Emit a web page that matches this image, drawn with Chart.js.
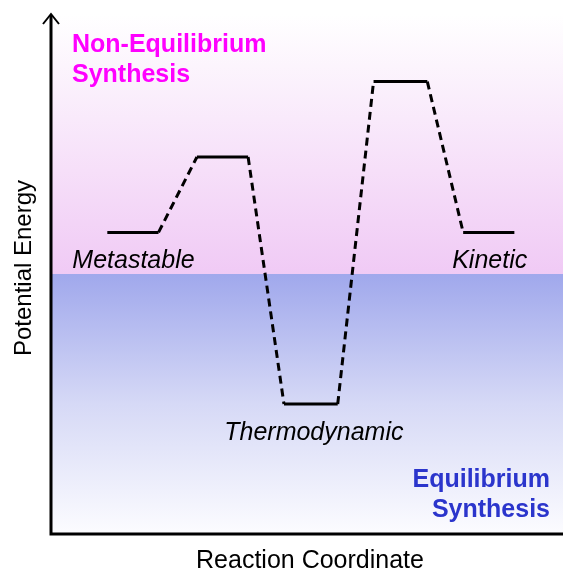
<!DOCTYPE html>
<html>
<head>
<meta charset="utf-8">
<script src="https://cdn.jsdelivr.net/npm/chart.js@4/dist/chart.umd.min.js"></script>
<style>
  html, body { margin: 0; padding: 0; background: #fff; }
  canvas { display: block; }
</style>
</head>
<body>
<canvas id="chart" width="563" height="571"></canvas>
<script>
// reaction coordinate (arbitrary units) and potential energy of each profile point
const coord = [1.1, 2.1, 2.85, 3.85, 4.55, 5.6, 6.3, 7.35, 8.05, 9.05];
const energy = [5.8, 5.8, 7.25, 7.25, 2.5, 2.5, 8.7, 8.7, 5.8, 5.8];
// style of the segment that starts at each point
const segKind = ['solid', 'dashed', 'solid', 'dashed', 'solid', 'dashed', 'solid', 'dashed', 'solid'];
// energy that splits equilibrium / non-equilibrium regions
const boundary = 5;
const levelNames = ['Metastable', 'Thermodynamic', 'Kinetic'];
const levelStart = [0, 4, 8];

const FONT = '"Liberation Sans", Arial, sans-serif';

const backdrop = {
  id: 'backdrop',
  beforeDatasetsDraw(chart) {
    const { ctx, chartArea: a, scales: { y } } = chart;
    const yb = y.getPixelForValue(boundary);
    ctx.save();
    let g = ctx.createLinearGradient(0, a.top, 0, yb);
    g.addColorStop(0, 'rgb(255,255,255)');
    g.addColorStop(1, 'rgb(240,202,245)');
    ctx.fillStyle = g;
    ctx.fillRect(a.left, 0, a.right - a.left, yb);
    g = ctx.createLinearGradient(0, yb, 0, a.bottom);
    g.addColorStop(0, 'rgb(160,168,236)');
    g.addColorStop(0.5, 'rgb(214,217,246)');
    g.addColorStop(1, 'rgb(252,252,255)');
    ctx.fillStyle = g;
    ctx.fillRect(a.left, yb, a.right - a.left, a.bottom - yb);
    ctx.restore();
  },
  afterDatasetsDraw(chart) {
    const { ctx, chartArea: a, scales: { x, y } } = chart;
    ctx.save();
    // axes with arrows
    ctx.strokeStyle = '#000';
    ctx.lineWidth = 3;
    ctx.beginPath();
    ctx.moveTo(a.left, a.top + 1);
    ctx.lineTo(a.left, a.bottom);
    ctx.lineTo(a.right + 5, a.bottom);
    ctx.stroke();
    ctx.lineWidth = 2;
    ctx.beginPath();
    ctx.moveTo(a.left - 8, a.top + 10);
    ctx.lineTo(a.left, a.top);
    ctx.lineTo(a.left + 8, a.top + 10);
    ctx.stroke();

    ctx.fillStyle = '#000';
    // axis titles
    ctx.font = '25px ' + FONT;
    ctx.textAlign = 'center';
    ctx.textBaseline = 'alphabetic';
    ctx.fillText('Reaction Coordinate', 310, 568);
    ctx.font = '24px ' + FONT;
    ctx.save();
    ctx.translate(31, 268);
    ctx.rotate(-Math.PI / 2);
    ctx.fillText('Potential Energy', 0, 0);
    ctx.restore();

    // level labels
    ctx.font = 'italic 25px ' + FONT;
    const lx = levelStart.map(i => x.getPixelForValue(coord[i]));
    const ly = levelStart.map(i => y.getPixelForValue(energy[i]));
    ctx.textAlign = 'left';
    ctx.fillText(levelNames[0], lx[0] - 35, ly[0] + 36);
    ctx.textAlign = 'center';
    ctx.fillText(levelNames[1], (lx[1] + x.getPixelForValue(coord[5])) / 2 + 3, ly[1] + 36);
    ctx.textAlign = 'left';
    ctx.fillText(levelNames[2], lx[2] - 11, ly[2] + 36);

    // region labels
    ctx.font = 'bold 25px ' + FONT;
    ctx.fillStyle = '#ff00ff';
    ctx.textAlign = 'left';
    ctx.fillText('Non-Equilibrium', 72, 52);
    ctx.fillText('Synthesis', 72, 82);
    ctx.fillStyle = '#2b35cc';
    ctx.textAlign = 'right';
    ctx.fillText('Equilibrium', 550, 487);
    ctx.fillText('Synthesis', 550, 517);
    ctx.restore();
  }
};

new Chart(document.getElementById('chart'), {
  type: 'line',
  data: {
    datasets: [{
      data: coord.map((c, i) => ({ x: c, y: energy[i] })),
      borderColor: '#000',
      borderWidth: 3,
      pointRadius: 0,
      tension: 0,
      segment: {
        borderDash: ctx => segKind[ctx.p0DataIndex] === 'dashed' ? [8, 5] : []
      }
    }]
  },
  options: {
    responsive: false,
    devicePixelRatio: 1,
    animation: false,
    layout: { padding: { left: 51, top: 14, right: 0, bottom: 37 } },
    scales: {
      x: { type: 'linear', min: 0, max: 10, display: false },
      y: { type: 'linear', min: 0, max: 10, display: false }
    },
    plugins: { legend: { display: false }, tooltip: { enabled: false } }
  },
  plugins: [backdrop]
});
</script>
</body>
</html>
